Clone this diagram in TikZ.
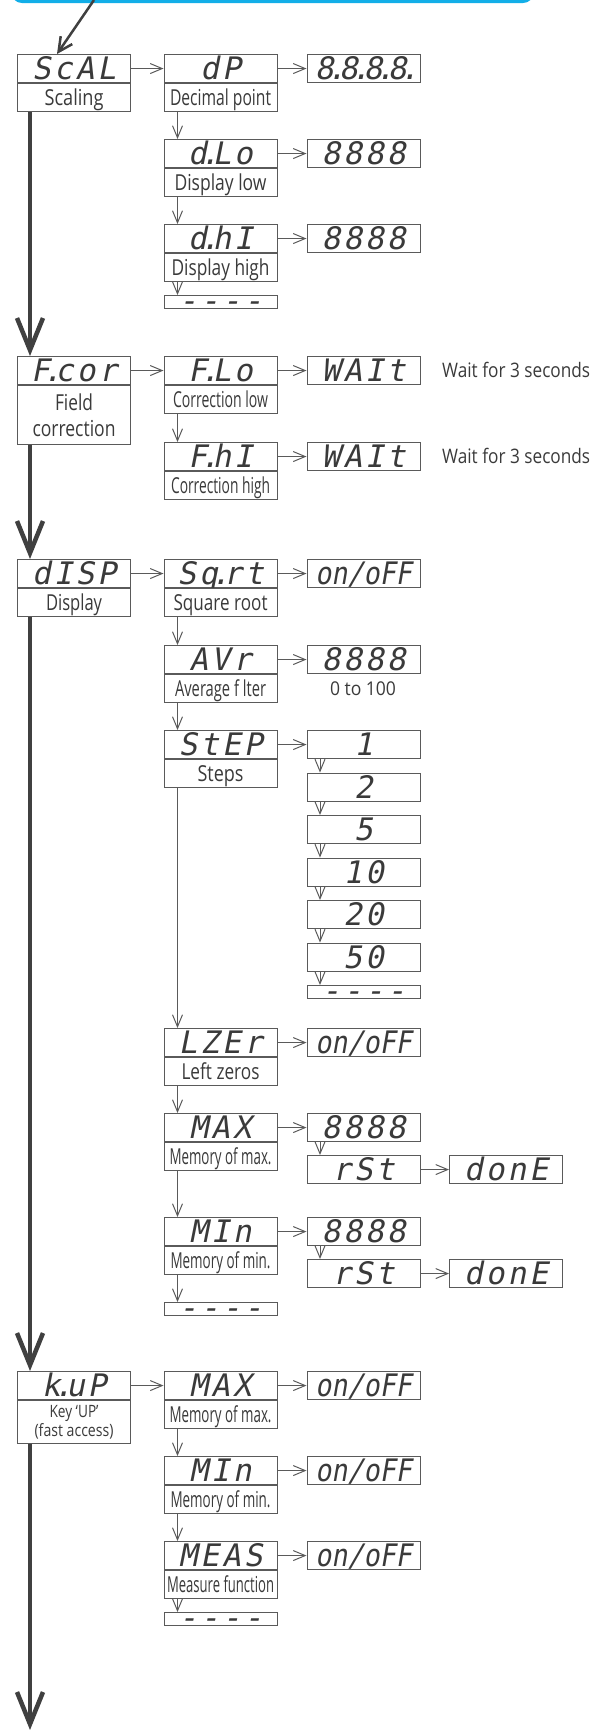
\documentclass[tikz,border=0pt]{standalone}
\usepackage{fontspec}
\usepackage{graphicx}
\usetikzlibrary{arrows.meta}
\newfontfamily\labf{Open Sans}
\newfontfamily\segf{DejaVu Sans Mono}[FakeSlant=0.2,LetterSpace=10]
\newfontfamily\segn{DejaVu Sans Mono}[FakeSlant=0.2]
\definecolor{boxc}{HTML}{5A5A5A}
\definecolor{txtc}{HTML}{3A3A3A}
\definecolor{thkc}{HTML}{404040}
\definecolor{cyanb}{HTML}{12AEE8}
\newcommand\sg[1]{\raisebox{-11pt}[0pt][0pt]{\fontsize{31}{31}\segf #1}}
\newcommand\sgn[1]{\raisebox{-11pt}[0pt][0pt]{\fontsize{31}{31}\segn\scalebox{0.86}[1]{#1}}}
\newcommand\sgd[1]{\raisebox{-9.2pt}[0pt][0pt]{\fontsize{31}{31}\segf #1}}
\newcommand\pd{\kern-6.5pt.\kern-6.5pt}
\newcommand\fw[2]{\resizebox{#1}{\height}{#2}}
\tikzset{
  bx/.style={draw=boxc, line width=1.1pt, fill=white, inner sep=0pt,
    minimum width=113pt, minimum height=28pt, anchor=north west, text=txtc},
  dbx/.style={bx, minimum height=13pt},
  lbm/.style={bx, anchor=north, font=\fontsize{22}{26}\labf, align=center},
  lb/.style={lbm, text height=17.5pt, text depth=2.5pt},
  note/.style={text=txtc, font=\fontsize{20}{24}\labf, inner sep=0pt},
  arr/.style={draw=boxc, line width=1pt, -{Straight Barb[length=12pt,width=10pt]}},
  thk/.style={draw=thkc, line width=4.5pt, -{Straight Barb[length=32pt,width=26pt]}},
  diag/.style={draw=thkc, line width=2.5pt, -{Straight Barb[length=14pt,width=14pt]}}
}
\begin{document}
\begin{tikzpicture}[x=1pt,y=-1pt]
\useasboundingbox (0,0) rectangle (595,1730);
\clip (0,0) rectangle (595,1730);
\draw[cyanb, line width=3pt, rounded corners=9pt] (13,-20) -- (13,1.5) -- (532,1.5) -- (532,-20);
\coordinate (src) at (94,0);

% Section 1: Scaling
\node[bx] (scal) at (17,54) {\sg{ScAL}};
\node[lb] (scal-l) at (scal.south) {\fw{59pt}{Scaling}};
\node[bx] (dp) at (163.5,54) {\sg{dP}};
\node[lb] (dp-l) at (dp.south) {\fw{101pt}{Decimal point}};
\node[bx] (dp-v) at (306.5,54) {\sg{8\pd8\pd8\pd8\pd}};
\node[bx] (dlo) at (163.5,139) {\sg{d\pd Lo}};
\node[lb] (dlo-l) at (dlo.south) {\fw{92pt}{Display low}};
\node[bx] (dlo-v) at (306.5,139) {\sg{8888}};
\node[bx] (dhi) at (163.5,224) {\sg{d\pd hI}};
\node[lb] (dhi-l) at (dhi.south) {\fw{98pt}{Display high}};
\node[bx] (dhi-v) at (306.5,224) {\sg{8888}};
\node[dbx] (dhi-e) at (163.5,295) {\sgd{----}};

% Section 2: Field correction
\node[bx] (fcor) at (17,356) {\sg{F\pd cor}};
\node[lbm, minimum height=59pt] (fcor-l) at (fcor.south) {\fw{38pt}{Field}\\\fw{83pt}{correction}};
\node[bx] (flo) at (163.5,356) {\sg{F\pd Lo}};
\node[lb] (flo-l) at (flo.south) {\fw{95pt}{Correction low}};
\node[bx] (flo-v) at (306.5,356) {\sg{WAIt}};
\node[note, anchor=west] (flo-t) at (442,370) {\fw{148pt}{Wait for 3 seconds}};
\node[bx] (fhi) at (163.5,442) {\sg{F\pd hI}};
\node[lb] (fhi-l) at (fhi.south) {\fw{99pt}{Correction high}};
\node[bx] (fhi-v) at (306.5,442) {\sg{WAIt}};
\node[note, anchor=west] (fhi-t) at (442,456) {\fw{148pt}{Wait for 3 seconds}};

% Section 3: Display
\node[bx] (disp) at (17,559) {\sg{dISP}};
\node[lb] (disp-l) at (disp.south) {\fw{56pt}{Display}};
\node[bx] (sqrt) at (163.5,559) {\sg{Sq\pd rt}};
\node[lb] (sqrt-l) at (sqrt.south) {\fw{94pt}{Square root}};
\node[bx] (sqrt-v) at (306.5,559) {\sgn{on/oFF}};
\node[bx] (avr) at (163.5,645) {\sg{AVr}};
\node[lb] (avr-l) at (avr.south) {\fw{91pt}{Average f lter}};
\node[bx] (avr-v) at (306.5,645) {\sg{8888}};
\node[note, font=\fontsize{19}{22}\labf] (avr-t) at (363,689) {\fw{66pt}{0 to 100}};
\node[bx] (step) at (163.5,730) {\sg{StEP}};
\node[lb] (step-l) at (step.south) {\fw{46pt}{Steps}};
\node[bx] (s1) at (306.5,730) {\sg{1}};
\node[bx] (s2) at (306.5,772.5) {\sg{2}};
\node[bx] (s5) at (306.5,815) {\sg{5}};
\node[bx] (s10) at (306.5,857.5) {\sg{10}};
\node[bx] (s20) at (306.5,900) {\sg{20}};
\node[bx] (s50) at (306.5,942.5) {\sg{50}};
\node[dbx] (se) at (306.5,985) {\sgd{----}};
\node[bx] (lzer) at (163.5,1028) {\sg{LZEr}};
\node[lb] (lzer-l) at (lzer.south) {\fw{78pt}{Left zeros}};
\node[bx] (lzer-v) at (306.5,1028) {\sgn{on/oFF}};
\node[bx] (max) at (163.5,1113) {\sg{MAX}};
\node[lb] (max-l) at (max.south) {\fw{102pt}{Memory of max.}};
\node[bx] (max-v) at (306.5,1113) {\sg{8888}};
\node[bx] (max-r) at (306.5,1155) {\sg{rSt}};
\node[bx] (max-d) at (449,1155) {\sg{donE}};
\node[bx] (min) at (163.5,1217) {\sg{MIn}};
\node[lb] (min-l) at (min.south) {\fw{100pt}{Memory of min.}};
\node[bx] (min-v) at (306.5,1217) {\sg{8888}};
\node[bx] (min-r) at (306.5,1259) {\sg{rSt}};
\node[bx] (min-d) at (449,1259) {\sg{donE}};
\node[dbx] (min-e) at (163.5,1302) {\sgd{----}};

% Section 4: Key UP
\node[bx] (kup) at (17,1371) {\sg{k\pd uP}};
\node[lbm, minimum height=43pt, font=\fontsize{17}{18.5}\labf] (kup-l) at (kup.south) {\fw{49pt}{Key ‘UP’}\\\fw{79pt}{(fast access)}};
\node[bx] (max2) at (163.5,1371) {\sg{MAX}};
\node[lb] (max2-l) at (max2.south) {\fw{102pt}{Memory of max.}};
\node[bx] (max2-v) at (306.5,1371) {\sgn{on/oFF}};
\node[bx] (min2) at (163.5,1456) {\sg{MIn}};
\node[lb] (min2-l) at (min2.south) {\fw{100pt}{Memory of min.}};
\node[bx] (min2-v) at (306.5,1456) {\sgn{on/oFF}};
\node[bx] (meas) at (163.5,1541) {\sg{MEAS}};
\node[lb] (meas-l) at (meas.south) {\fw{107pt}{Measure function}};
\node[bx] (meas-v) at (306.5,1541) {\sgn{on/oFF}};
\node[dbx] (meas-e) at (163.5,1612) {\sgd{----}};
\coordinate (end) at (30,1730);

% diagonal entry arrow
\draw[diag] (src) -- ([xshift=40pt]scal.north west);

% main thick flow
\draw[thk] ([xshift=13pt]scal-l.south west) -- ([xshift=13pt]fcor.north west);
\draw[thk] ([xshift=13pt]fcor-l.south west) -- ([xshift=13pt]disp.north west);
\draw[thk] ([xshift=13pt]disp-l.south west) -- ([xshift=13pt]kup.north west);
\draw[thk] ([xshift=13pt]kup-l.south west) -- (end);

% horizontal arrows
\foreach \a/\b in {scal/dp, dp/dp-v, dlo/dlo-v, dhi/dhi-v,
  fcor/flo, flo/flo-v, fhi/fhi-v,
  disp/sqrt, sqrt/sqrt-v, avr/avr-v, step/s1, lzer/lzer-v,
  max/max-v, max-r/max-d, min/min-v, min-r/min-d,
  kup/max2, max2/max2-v, min2/min2-v, meas/meas-v}
  \draw[arr] (\a.east) -- (\b.west);

% vertical arrows, column B
\foreach \a/\b in {dp-l/dlo, dlo-l/dhi, dhi-l/dhi-e, flo-l/fhi,
  sqrt-l/avr, avr-l/step, step-l/lzer, lzer-l/max, max-l/min, min-l/min-e,
  max2-l/min2, min2-l/meas, meas-l/meas-e}
  \draw[arr] ([xshift=14pt]\a.south west) -- ([xshift=14pt]\b.north west);

% vertical arrows, column C
\foreach \a/\b in {s1/s2, s2/s5, s5/s10, s10/s20, s20/s50, s50/se,
  max-v/max-r, min-v/min-r}
  \draw[arr] ([xshift=13.5pt]\a.south west) -- ([xshift=13.5pt]\b.north west);
\end{tikzpicture}
\end{document}
